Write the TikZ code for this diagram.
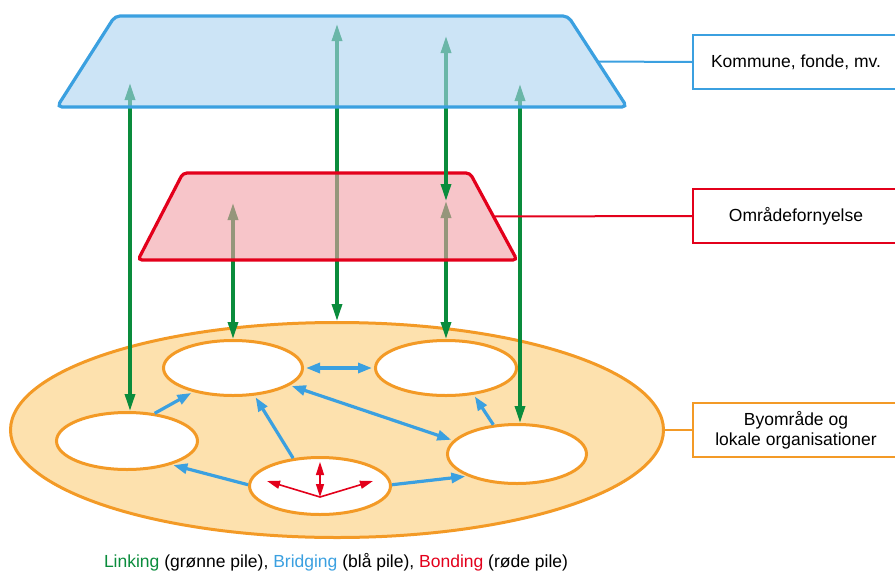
\documentclass[tikz,border=0pt]{standalone}
\usepackage{fontspec}
\setmainfont{Liberation Sans}
\usetikzlibrary{arrows.meta,shapes.geometric}
\definecolor{lgreen}{HTML}{0A8C3C}
\definecolor{lblue}{HTML}{3BA0E0}
\definecolor{lred}{HTML}{E3001B}
\definecolor{lorange}{HTML}{F39A26}
\definecolor{bfill}{HTML}{AAD2F0}
\definecolor{rfill}{HTML}{F29EA5}
\definecolor{ofill}{HTML}{FDE1AE}
\begin{document}
\begin{tikzpicture}[x=1pt,y=-1pt,
  org/.style={ellipse,draw=lorange,line width=3pt,fill=white,inner sep=0pt},
  lab/.style={draw,line width=1.5pt,fill=white,minimum width=206pt,minimum height=54pt,align=center,font=\fontsize{17.5}{20}\selectfont},
  link/.style={draw=lgreen,line width=3.2pt,{Triangle[length=17pt,width=10pt]}-{Triangle[length=17pt,width=10pt]}},
  bridge/.style={draw=lblue,line width=3.2pt,-{Triangle[length=14pt,width=10pt]},shorten >=2pt},
  bridges/.style={bridge,{Triangle[length=14pt,width=10pt]}-{Triangle[length=14pt,width=10pt]},shorten <=2pt},
  bond/.style={draw=lred,line width=1.6pt,-{Triangle[length=13pt,width=8pt]}}]
\useasboundingbox (0,0) rectangle (895,571);
% area with local organisations
\node[org,fill=ofill,minimum width=653pt,minimum height=215pt] (by) at (337,430) {};
\node[org,minimum width=139pt,minimum height=55pt] (e1) at (233,368) {};
\node[org,minimum width=141pt,minimum height=55pt] (e2) at (446,368) {};
\node[org,minimum width=141pt,minimum height=57pt] (e3) at (127,441) {};
\node[org,minimum width=139pt,minimum height=59pt] (e4) at (517,454) {};
\node[org,minimum width=141pt,minimum height=57pt] (e5) at (320,486) {};
\draw[bridge] (e3.45) -- (e1.211);
\draw[bridge] (e5.134) -- (e1.-52);
\draw[bridges] (e1.east) -- (e2.west);
\draw[bridges] (e1.-17) -- (e4.168);
\draw[bridge] (e4.129) -- (e2.-44);
\draw[bridge] (e5.179) -- (e3.-28);
\draw[bridge] (e5.1) -- (e4.204);
\coordinate (bnd) at (320,497); \coordinate (bn1) at (320,462);
\coordinate (bn2) at (267,481); \coordinate (bn3) at (373,481);
\draw[bond,{Triangle[length=13pt,width=8pt]}-{Triangle[length=13pt,width=8pt]}] (bnd) -- (bn1);
\draw[bond] (bnd) -- (bn2); \draw[bond] (bnd) -- (bn3);
% linking arrows
\coordinate (k1) at (130,83); \coordinate (k2) at (337,24);
\coordinate (k3) at (446,36); \coordinate (k4) at (520,84);
\coordinate (o1) at (233,203); \coordinate (o2) at (446,201);
\draw[link] (k1) -- (k1 |- e3.north);
\draw[link] (o1) -- (e1.north);
\draw[link] (k2) -- (by.north);
\draw[link] (o2) -- (e2.north);
\draw[link] (k4) -- (k4 |- e4.north);
\draw[lred,line width=3.2pt,fill=rfill,fill opacity=0.6,rounded corners=4pt] (183,173) -- (470,173) -- coordinate[pos=0.5] (rR) (517,260) -- (138,260) -- cycle;
\draw[link] (k3) -- (o2);
\draw[lblue,line width=3.2pt,fill=bfill,fill opacity=0.6,rounded corners=5pt] (115,16) -- (568,16) -- coordinate[pos=0.5] (bR) (627,107) -- (57,107) -- cycle;
% labels
\node[lab,draw=lblue] (kom) at (796,62) {Kommune, fonde, mv.};
\node[lab,draw=lred] (omr) at (796,216) {Områdefornyelse};
\node[lab,draw=lorange] (byo) at (796,430) {Byområde og\\lokale organisationer};
\draw[lblue,line width=2pt] (bR) -- (kom.west);
\draw[lred,line width=2pt] (rR) -- (omr.west);
\draw[lorange,line width=2pt] (by.east) -- (byo.west);
\node[font=\fontsize{17.5}{20}\selectfont] (leg) at (336,562) {\textcolor{lgreen}{Linking} (grønne pile), \textcolor{lblue}{Bridging} (blå pile), \textcolor{lred}{Bonding} (røde pile)};
\end{tikzpicture}
\end{document}
